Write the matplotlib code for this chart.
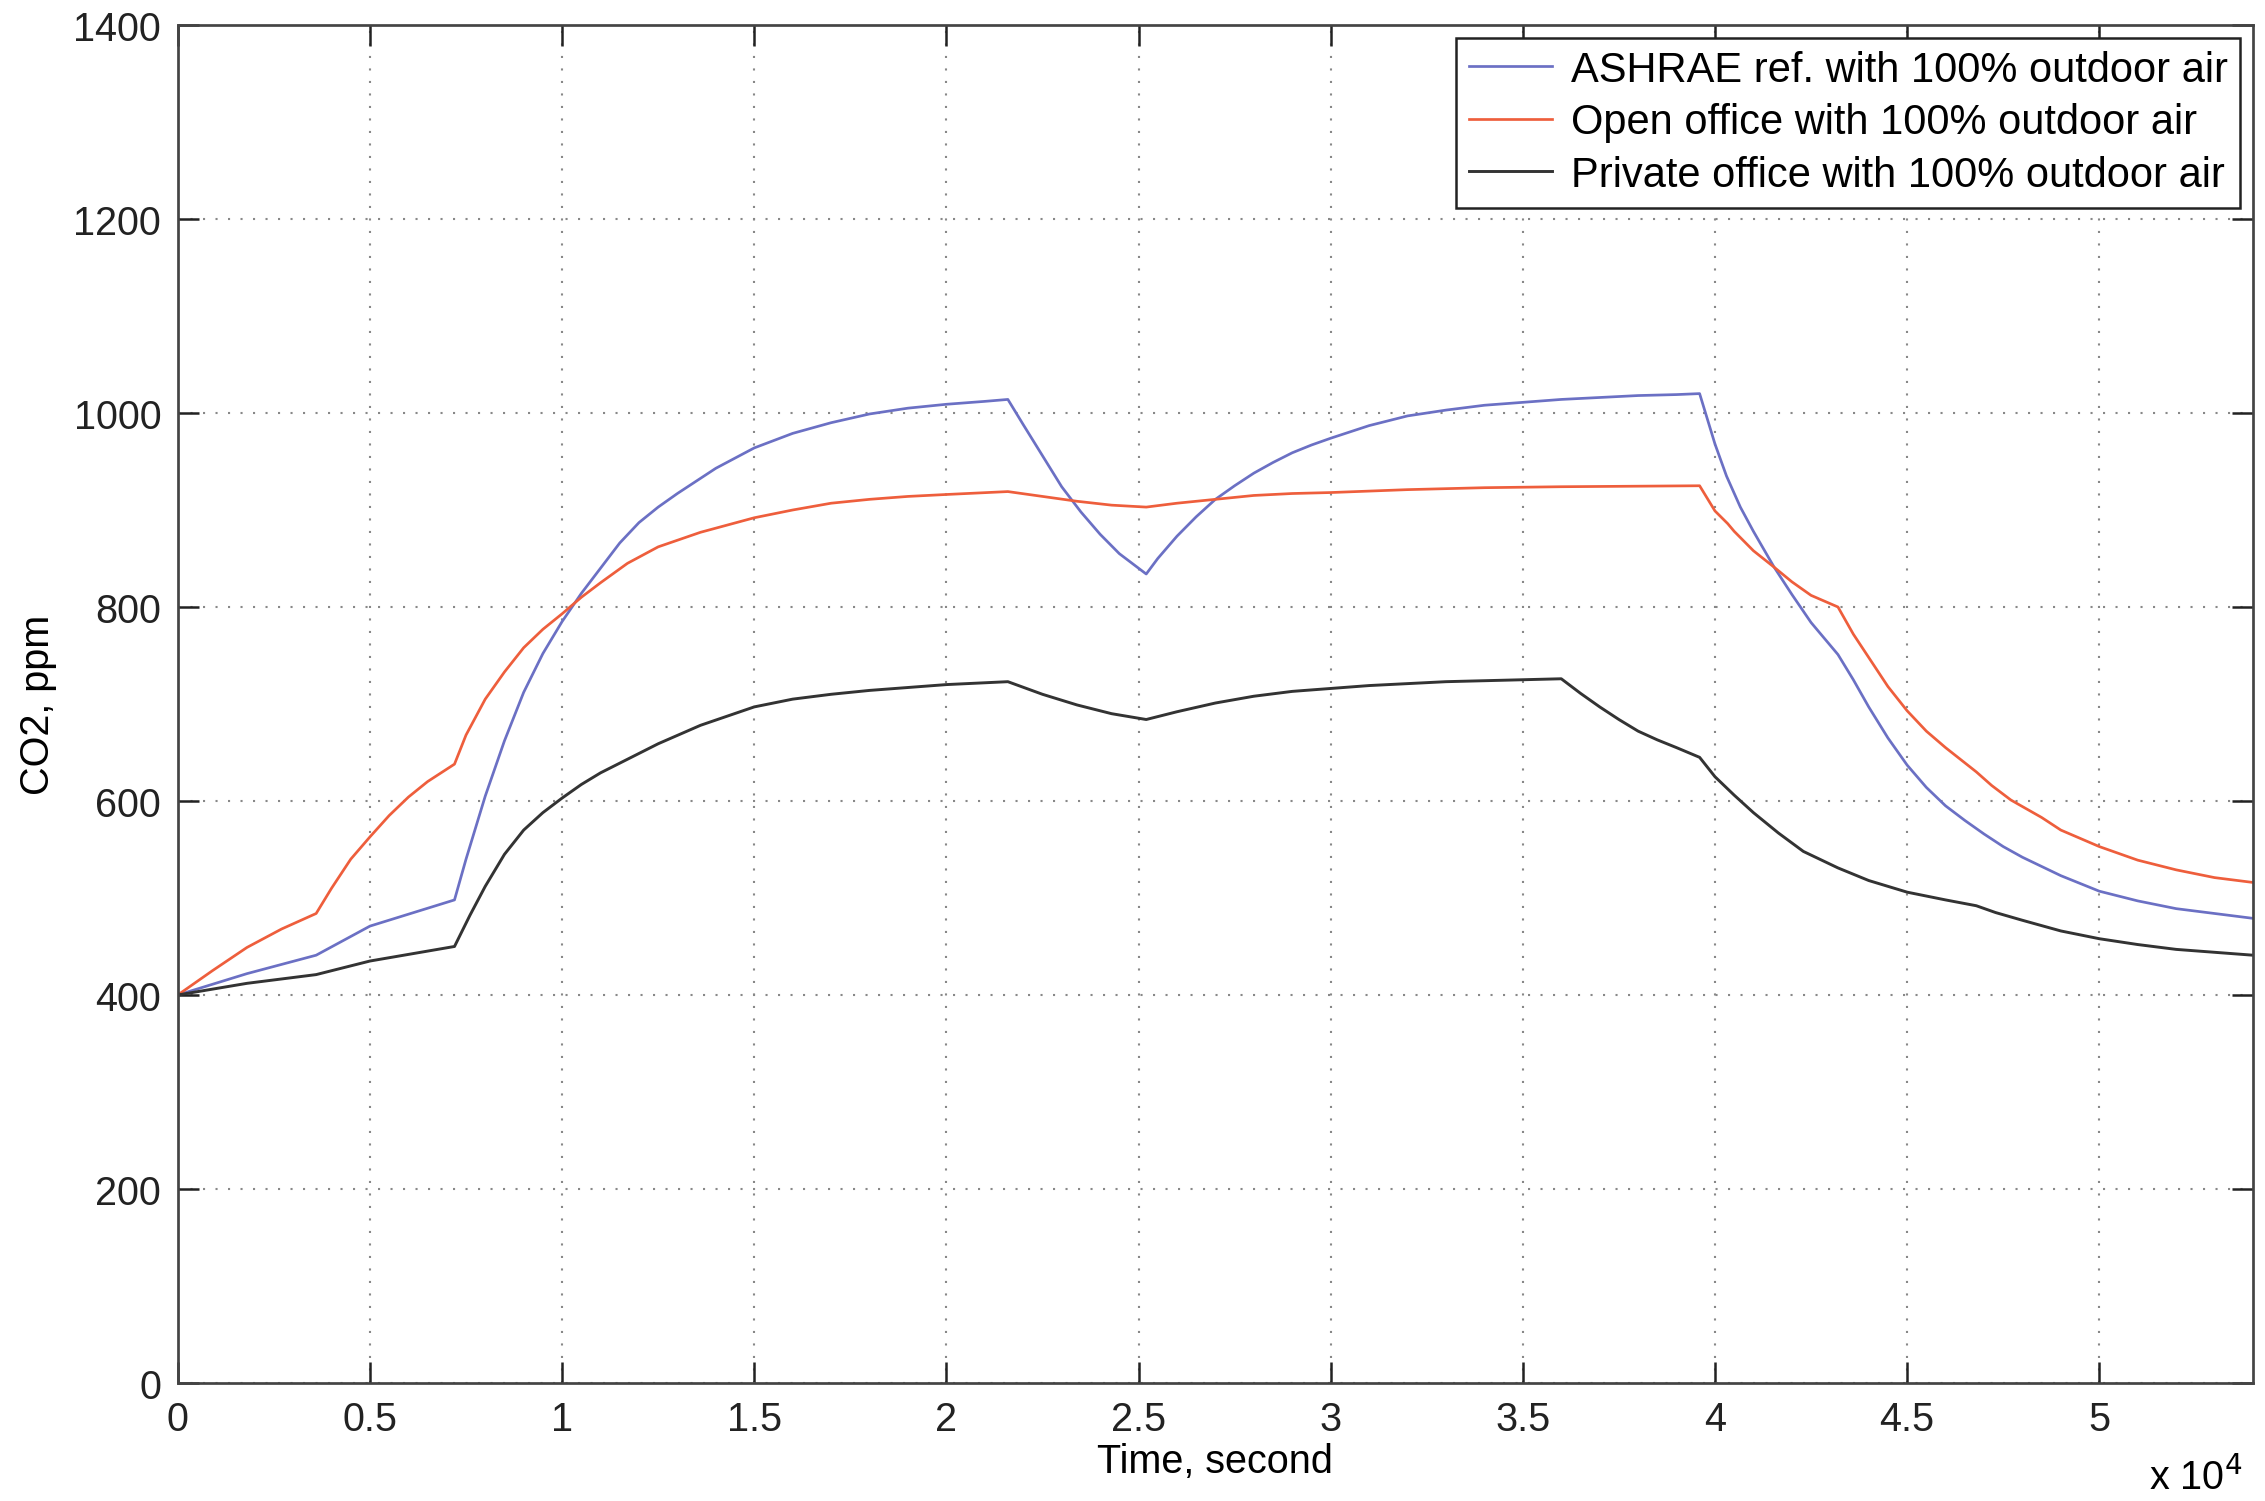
import numpy as np
import matplotlib
matplotlib.use("Agg")
import matplotlib.pyplot as plt

plt.rcParams['font.family'] = ['Liberation Sans', 'DejaVu Sans']

# --- data (time in seconds, CO2 in ppm) ---
t_ashrae = [0, 1800, 3600, 5000, 7200, 7500, 8000, 8500, 9000, 9500, 10000,
            10500, 11000, 11500, 12000, 12500, 13000, 14000, 15000, 16000, 17000,
            18000, 19000, 20000, 21000, 21600,
            22000, 22500, 23000, 23500, 24000, 24500, 25200,
            25500, 26000, 26500, 27000, 27500, 28000, 28500, 29000, 29500, 30000,
            31000, 32000, 33000, 34000, 35000, 36000, 37000, 38000, 39000, 39600,
            40000, 40300, 40660, 41000, 41540, 42000, 42500, 43200,
            43600, 44000, 44500, 45000, 45500, 46000, 46500, 47000, 47500, 48000,
            49000, 50000, 51000, 52000, 53000, 54000]
co2_ashrae = [400, 422, 441, 471, 498, 540, 605, 662, 712, 752, 785,
              814, 840, 866, 887, 903, 917, 943, 964, 979, 990,
              999, 1005, 1009, 1012, 1014,
              988, 956, 924, 898, 875, 855, 834,
              850, 873, 893, 911, 925, 938, 949, 959, 967, 974,
              987, 997, 1003, 1008, 1011, 1014, 1016, 1018, 1019, 1020,
              968, 935, 903, 878, 841, 813, 784, 751,
              725, 697, 665, 637, 614, 595, 580, 566, 553, 542,
              523, 507, 497, 489, 484, 479]

t_open = [0, 900, 1800, 2700, 3600, 4000, 4500, 5000, 5500, 6000, 6500, 7200,
          7500, 8000, 8500, 9000, 9500, 10000, 10500, 11000, 11700, 12500, 13600,
          15000, 16000, 17000, 18000, 19000, 20000, 21600,
          22500, 23400, 24300, 25200,
          26000, 27000, 28000, 29000, 30000, 32000, 34000, 36000, 39600,
          40000, 40330, 40500, 41000, 41540, 42000, 42500, 43200,
          43600, 44000, 44500, 45000, 45500, 46000, 46800, 47200, 47700, 48500,
          49000, 50000, 51000, 52000, 53000, 54000]
co2_open = [400, 425, 449, 468, 484, 510, 540, 563, 585, 604, 620, 638,
            668, 705, 733, 758, 777, 793, 810, 825, 845, 862, 877,
            892, 900, 907, 911, 914, 916, 919,
            914, 909, 905, 903,
            907, 911, 915, 917, 918, 921, 923, 924, 925,
            899, 886, 878, 858, 841, 826, 812, 800,
            772, 748, 718, 693, 672, 655, 630, 616, 601, 583,
            570, 553, 539, 529, 521, 516]

t_private = [0, 1800, 3600, 5000, 7200, 7600, 8000, 8500, 9000, 9500, 10000,
             10500, 11000, 11700, 12500, 13600, 15000, 16000, 17000, 18000, 19000,
             20000, 21600, 22500, 23400, 24300, 25200,
             26000, 27000, 28000, 29000, 30000, 31000, 32000, 33000, 34000, 35000,
             36000, 36500, 37000, 37500, 38000, 38500, 39000, 39600,
             40000, 40500, 41000, 41650, 42300, 43200, 44000, 45000, 46000, 46800,
             47300, 48000, 49000, 50000, 51000, 52000, 53000, 54000]
co2_private = [400, 412, 421, 435, 450, 482, 512, 545, 570, 588, 603,
               617, 629, 643, 659, 678, 697, 705, 710, 714, 717,
               720, 723, 710, 699, 690, 684,
               692, 701, 708, 713, 716, 719, 721, 723, 724, 725,
               726, 711, 697, 684, 672, 663, 655, 645,
               625, 606, 588, 567, 548, 531, 518, 506, 498, 492,
               485, 477, 466, 458, 452, 447, 444, 441]

labels = ['ASHRAE ref. with 100% outdoor air',
          'Open office with 100% outdoor air',
          'Private office with 100% outdoor air']
colors = ['#6b70c4', '#ee5e3c', '#333333']

x_ticks = np.arange(0, 50001, 5000)
x_ticklabels = ['0', '0.5', '1', '1.5', '2', '2.5', '3', '3.5', '4', '4.5', '5']
y_ticks = np.arange(0, 1401, 200)

# --- figure ---
fig = plt.figure(figsize=(15.1, 10.013), dpi=150)
ax = fig.add_axes([0.0785, 0.0786, 0.9162, 0.9041])

ax.plot(t_ashrae, co2_ashrae, color=colors[0], lw=1.3, label=labels[0])
ax.plot(t_open, co2_open, color=colors[1], lw=1.3, label=labels[1])
ax.plot(t_private, co2_private, color=colors[2], lw=1.4, label=labels[2])

ax.set_xlim(0, 54000)
ax.set_ylim(0, 1400)
ax.set_xticks(x_ticks)
ax.set_xticklabels(x_ticklabels)
ax.set_yticks(y_ticks)

ax.grid(True, color='#888888', linestyle=(0, (1, 5)), linewidth=1.0)
ax.tick_params(direction='in', length=10, width=1.2, labelsize=19,
               top=True, right=True, colors='#222222', pad=8)
for sp in ax.spines.values():
    sp.set_color('#444444')
    sp.set_linewidth(1.3)

ax.set_xlabel('Time, second', fontsize=19, labelpad=2)
ax.set_ylabel('CO2, ppm', fontsize=19, labelpad=8)
ax.text(0.995, -0.069, r'x 10$^4$', transform=ax.transAxes,
        ha='right', va='center', fontsize=19)

leg = ax.legend(loc='upper right', fontsize=20, fancybox=False,
                framealpha=1, edgecolor='#222222', borderaxespad=0.3,
                handlelength=2.0, handletextpad=0.45, borderpad=0.3,
                labelspacing=0.3)
leg.get_frame().set_linewidth(1.2)

fig.savefig('out.png', dpi=150)
